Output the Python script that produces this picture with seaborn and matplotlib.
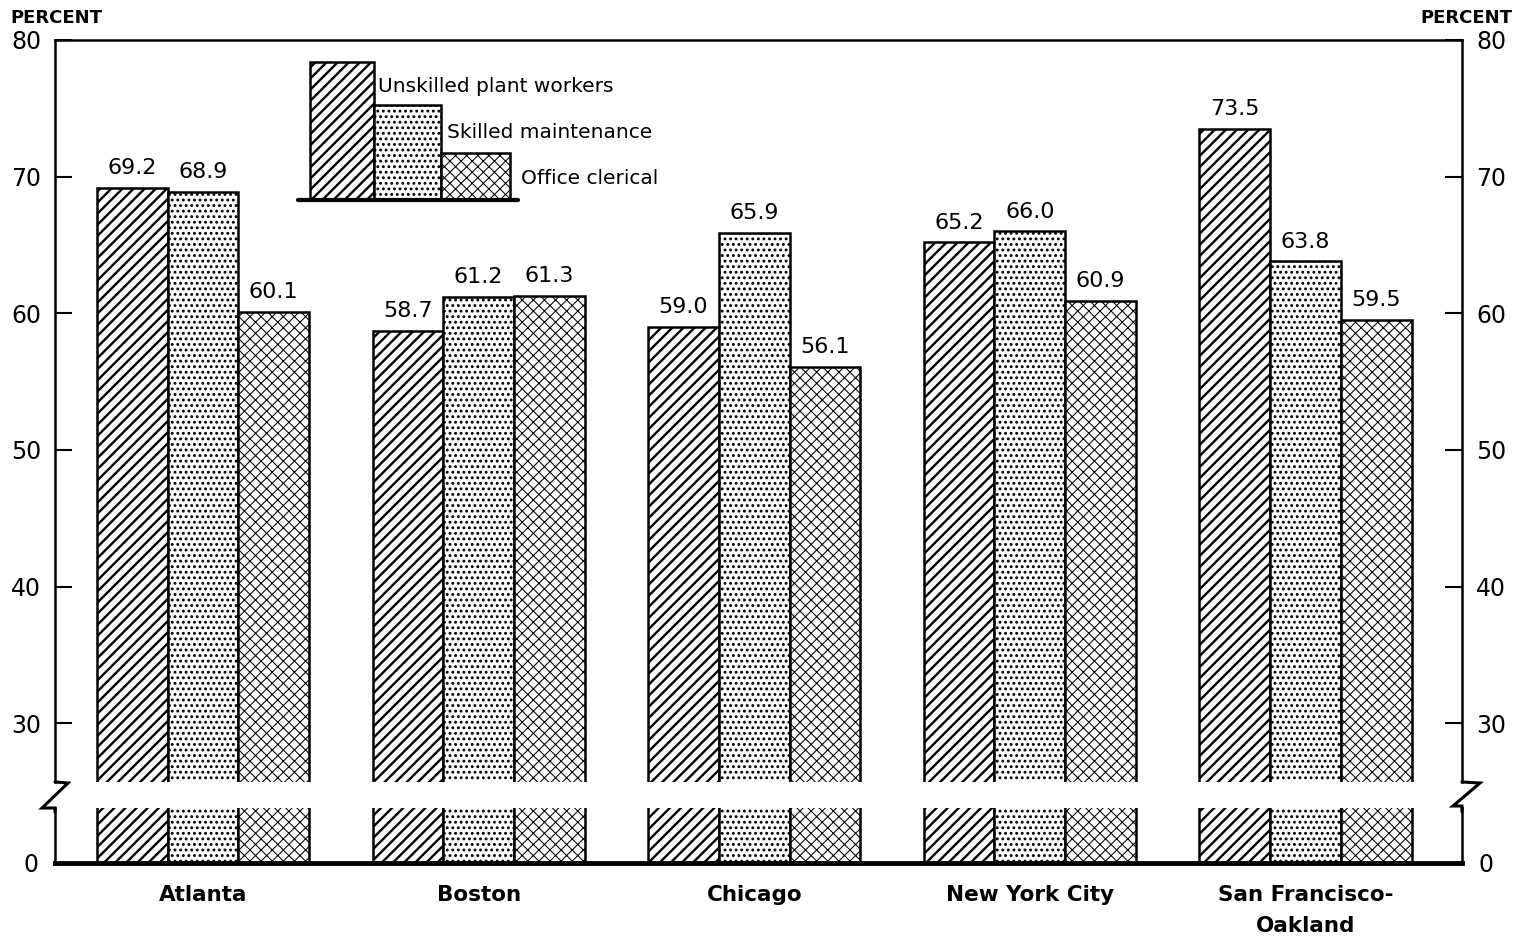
import matplotlib
matplotlib.use("Agg")
import matplotlib.pyplot as plt
import seaborn as sns
import pandas as pd
from matplotlib.patches import Rectangle
from matplotlib.lines import Line2D

# ---- data ----
cities = ["Atlanta", "Boston", "Chicago", "New York City", "San Francisco-\nOakland"]
groups = ["Unskilled plant workers", "Skilled maintenance", "Office clerical"]
unskilled = [69.2, 58.7, 59.0, 65.2, 73.5]
skilled = [68.9, 61.2, 65.9, 66.0, 63.8]
office = [60.1, 61.3, 56.1, 60.9, 59.5]
yticks_top = [30, 40, 50, 60, 70, 80]
yticks_bottom = [0]
hatches = ["///", "...", "xxx"]
hatch_lw = [1.7, 1.3, 0.75]

df = pd.DataFrame({
    "city": cities * 3,
    "group": [g for g in groups for _ in cities],
    "value": unskilled + skilled + office,
})

sns.set_theme(style="white")
plt.rcParams["font.family"] = ["DejaVu Sans"]
plt.rcParams["hatch.linewidth"] = 1.1
plt.rcParams["hatch.color"] = "black"


def style_hatch(patch, h, lw):
    patch.set_hatch(h)
    if hasattr(patch, "set_hatch_linewidth"):
        patch.set_hatch_linewidth(lw)


W, H = 1522, 943
fig = plt.figure(figsize=(W / 100, H / 100), dpi=100)
ax = fig.add_axes([55 / W, 1 - 782 / H, 1407 / W, 742 / H])
axb = fig.add_axes([55 / W, 1 - 863 / H, 1407 / W, 55 / H])

pal = {g: "white" for g in groups}
for a in (ax, axb):
    sns.barplot(data=df, x="city", y="value", hue="group", hue_order=groups,
                order=cities, palette=pal, edgecolor="black", linewidth=1.8,
                width=0.77, saturation=1, legend=False, ax=a, errorbar=None)
    for cont, h, lw in zip(a.containers, hatches, hatch_lw):
        for bar in cont:
            style_hatch(bar, h, lw)
    a.set_xlim(-0.537, 4.568)
    a.set_xlabel("")
    a.set_ylabel("")
    a.set_facecolor("white")

# upper axis
ax.set_ylim(25.7, 80)
ax.set_yticks(yticks_top)
ax.set_yticklabels([str(t) for t in yticks_top])
ax.tick_params(axis="y", left=True, right=True, labelleft=True, labelright=True,
               direction="in", length=12, width=1.5, labelsize=17, pad=10, colors="black")
ax.tick_params(axis="x", bottom=False, labelbottom=False)
ax.spines["bottom"].set_visible(False)
for s in ("top", "left", "right"):
    ax.spines[s].set_linewidth(1.8)
    ax.spines[s].set_color("black")

for cont in ax.containers:
    ax.bar_label(cont, fmt="%.1f", padding=7, fontsize=16, color="black")

# lower axis
axb.set_ylim(0, 4.03)
axb.set_yticks(yticks_bottom)
axb.set_yticklabels([str(t) for t in yticks_bottom])
axb.tick_params(axis="y", left=True, right=True, labelleft=True, labelright=True,
                length=0, labelsize=17, pad=12, colors="black")
axb.tick_params(axis="x", length=0, pad=16, colors="black")
axb.set_xticks(range(len(cities)))
axb.set_xticklabels(cities, fontsize=15.5, fontweight="bold", linespacing=1.7)
axb.spines["top"].set_visible(False)
axb.spines["bottom"].set_linewidth(3.5)
for s in ("left", "right"):
    axb.spines[s].set_linewidth(1.8)
for s in ("left", "right", "bottom"):
    axb.spines[s].set_color("black")


# break marks
def fig_line(pts, lw=2.2):
    xs = [p[0] / W for p in pts]
    ys = [1 - p[1] / H for p in pts]
    fig.add_artist(Line2D(xs, ys, transform=fig.transFigure, color="black",
                          lw=lw, solid_joinstyle="miter"))


fig_line([(55, 782), (68, 783), (42, 808), (55, 808), (55, 812)])
fig_line([(1462, 782), (1480, 783), (1453, 806), (1462, 806), (1462, 812)])

# PERCENT labels
fig.text(10 / W, 1 - 18 / H, "PERCENT", fontsize=13, fontweight="bold",
         ha="left", va="center", color="black")
fig.text(1512 / W, 1 - 18 / H, "PERCENT", fontsize=13, fontweight="bold",
         ha="right", va="center", color="black")

# stepped legend
leg = [
    (0.181, 0.2267, 0.970, 0.2296, 0.938),
    (0.2267, 0.2743, 0.912, 0.2786, 0.875),
    (0.2743, 0.3234, 0.848, 0.331, 0.814),
]
base = 0.784
for (x0, x1, top, tx, ty), h, lw, g in zip(leg, hatches, hatch_lw, groups):
    r = Rectangle((x0, base), x1 - x0, top - base, transform=ax.transAxes,
                  facecolor="white", edgecolor="black", lw=1.8,
                  clip_on=False, zorder=5)
    style_hatch(r, h, lw)
    ax.add_patch(r)
    ax.text(tx, ty, g, transform=ax.transAxes, fontsize=14.5, ha="left",
            va="center", color="black", zorder=6)
ax.add_line(Line2D([0.1727, 0.329], [base, base], transform=ax.transAxes,
                   color="black", lw=3, zorder=6))

fig.savefig("out.png", dpi=100, facecolor="white")
